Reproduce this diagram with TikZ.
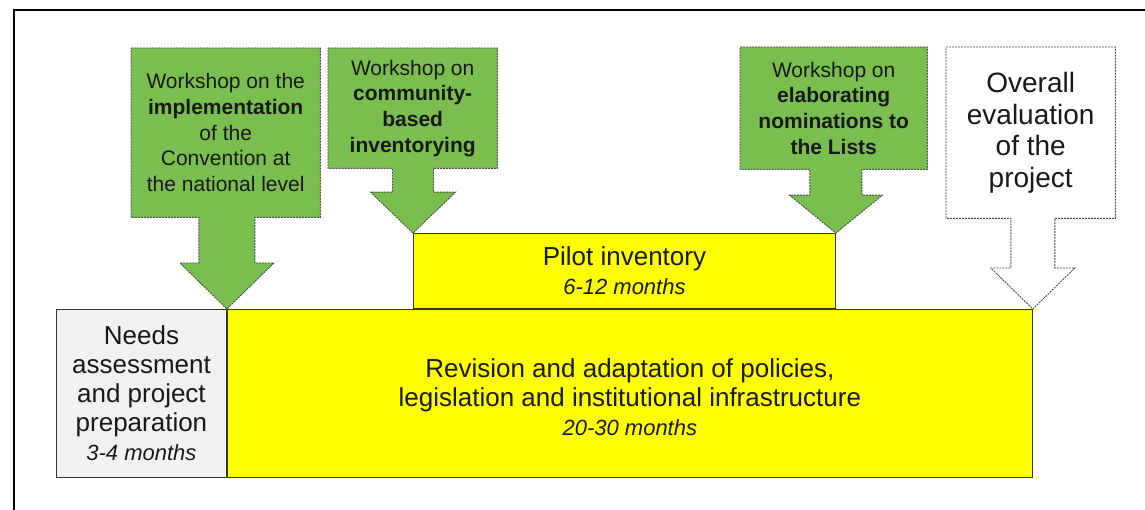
\documentclass[tikz,border=0pt]{standalone}
\usepackage{fontspec}
\setmainfont{Liberation Sans}
\usetikzlibrary{calc}
\definecolor{wsgreen}{RGB}{122,190,80}
\definecolor{edgec}{RGB}{55,55,55}
\definecolor{dashc}{RGB}{75,75,75}
\definecolor{needsgray}{RGB}{241,241,241}
\definecolor{phaseyellow}{RGB}{255,255,0}
\definecolor{txt}{RGB}{25,25,25}

% #1 style, #2 box node, #3 tip coordinate, #4 stem half width, #5 head half width, #6 head height
\newcommand\drawcallout[6]{%
  \draw[#1] (#2.north west) -- (#2.north east) -- (#2.south east)
    -- ($(#3 |- #2.south)+(#4,0)$) -- ($(#3)+(#4,-#6)$) -- ($(#3)+(#5,-#6)$)
    -- (#3) -- ($(#3)+(-#5,-#6)$) -- ($(#3)+(-#4,-#6)$)
    -- ($(#3 |- #2.south)+(-#4,0)$) -- (#2.south west) -- cycle;}

\begin{document}
\begin{tikzpicture}[x=1pt,y=-1pt,
  callout/.style={draw=dashc, line width=0.9pt, dash pattern=on 2pt off 1pt, line join=miter},
  wsarrow/.style={callout, fill=wsgreen},
  evarrow/.style={callout, fill=white},
  area/.style={inner sep=0pt, anchor=north west},
  wstext/.style={font=\fontsize{21}{25.7}\selectfont, align=center, text=txt},
  evtext/.style={font=\fontsize{28}{31.5}\selectfont, align=center, text=txt},
  phase/.style={draw=edgec, line width=0.9pt, inner sep=0pt, anchor=north west,
    text=txt, align=center, font=\fontsize{26}{29}\selectfont},
  months/.style={font=\fontsize{22}{29}\selectfont\itshape}
]
\useasboundingbox (0,0) rectangle (1145,510);
\coordinate (frameA) at (14,510);
\coordinate (frameB) at (14,10);
\coordinate (frameC) at (1145,10);
\draw[line width=2pt, black] (frameA) -- (frameB) -- (frameC);

% phases
\node[phase, fill=needsgray, minimum width=170pt, minimum height=168pt] (needs) at (56,309)
  {Needs\\assessment\\and project\\preparation\\{\fontsize{22}{29}\selectfont\itshape 3-4 months}};
\node[phase, fill=phaseyellow, minimum width=805pt, minimum height=168pt] (main) at (needs.north east) {};
\node[txt, align=center, font=\fontsize{26}{29}\selectfont, text=txt] (maintext) at ($(main.center)+(0,4)$)
  {Revision and adaptation of policies,\\legislation and institutional infrastructure\\{\fontsize{22}{29}\selectfont\itshape 20-30 months}};
\node[phase, fill=phaseyellow, minimum width=422pt, minimum height=75pt, anchor=south west] (pilot) at (413,309)
  {Pilot inventory\\{\fontsize{22}{29}\selectfont\itshape 6-12 months}};

% callout tips
\coordinate (tip1) at (needs.north east);
\coordinate (tip2) at (pilot.north west);
\coordinate (tip3) at (pilot.north east);
\coordinate (tip4) at (main.north east);

% callout boxes
\node[area, minimum width=189pt, minimum height=169pt] (ws1) at (131,48) {};
\node[area, minimum width=169pt, minimum height=120pt] (ws2) at (328,48) {};
\node[area, minimum width=187pt, minimum height=122pt] (ws3) at (740,47) {};
\node[area, minimum width=169pt, minimum height=171pt] (ev) at (946,47) {};

\drawcallout{wsarrow}{ws1}{tip1}{28}{47}{46}
\drawcallout{wsarrow}{ws2}{tip2}{20.5}{42.5}{41}
\drawcallout{wsarrow}{ws3}{tip3}{26}{46.5}{38}
\drawcallout{evarrow}{ev}{tip4}{22}{42}{41}

\node[wstext] (ws1text) at (ws1.center)
  {Workshop on the\\\textbf{implementation}\\of the\\Convention at\\the national level};
\node[wstext] (ws2text) at (ws2.center)
  {Workshop on\\\textbf{community-}\\\textbf{based}\\\textbf{inventorying}};
\node[wstext] (ws3text) at (ws3.center)
  {Workshop on\\\textbf{elaborating}\\\textbf{nominations to}\\\textbf{the Lists}};
\node[evtext] (evtext) at (ev.center)
  {Overall\\evaluation\\of the\\project};
\end{tikzpicture}
\end{document}
